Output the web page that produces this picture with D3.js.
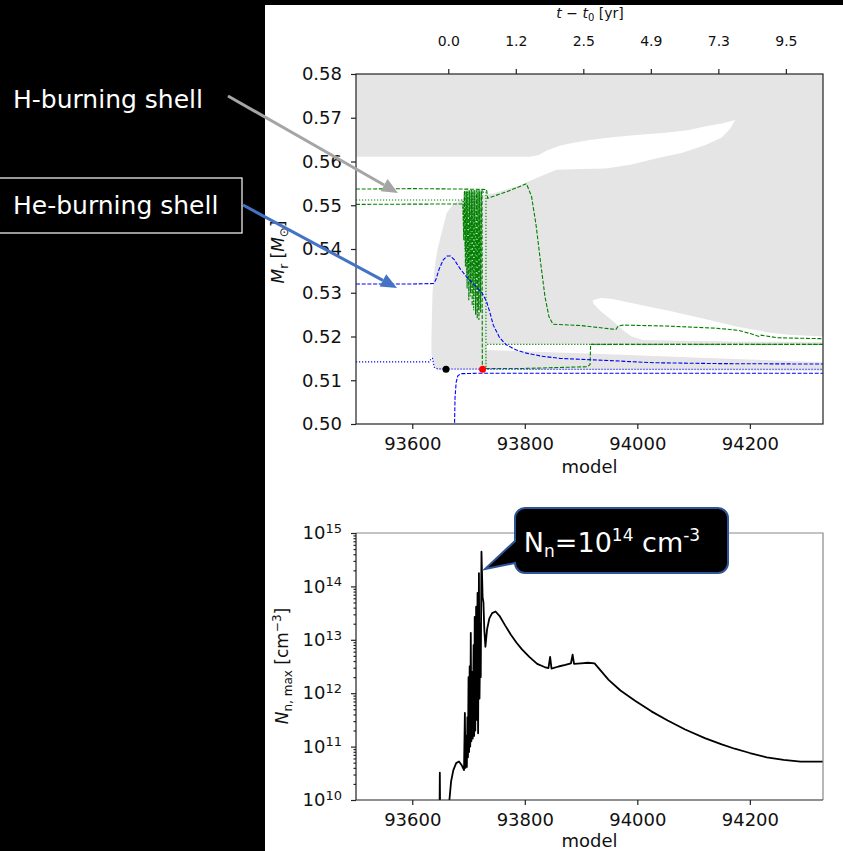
<!DOCTYPE html>
<html>
<head>
<meta charset="utf-8">
<script src="https://cdn.jsdelivr.net/npm/d3@7"></script>
<style>
body { margin: 0; background: #000; }
svg { display: block; }
text { font-family: "DejaVu Sans", sans-serif; }
</style>
</head>
<body>
<svg id="chart" width="843" height="851"></svg>
<script>
// ---- data ----
// upper x axis: time since t0 (yr) at given model numbers
var timeTickModels = [93664, 93784, 93904, 94024, 94144, 94264];
var timeTickLabels = ["0.0", "1.2", "2.5", "4.9", "7.3", "9.5"];
var modelTicks = [93600, 93800, 94000, 94200];
var massTicks = [0.50, 0.51, 0.52, 0.53, 0.54, 0.55, 0.56, 0.57, 0.58];
var nnTicks = [1e10, 1e11, 1e12, 1e13, 1e14, 1e15];

// convective region (grey), outline as [model, Mr]
var convOuter = [[93500,0.58],[94330,0.58],[94330,0.5122],[93645,0.5124],[93640,0.5128],[93636,0.5150],
  [93634,0.5160],[93634,0.5200],[93636,0.5300],[93640,0.5360],[93645,0.5400],[93652,0.5436],[93661,0.5482],
  [93672,0.5502],[93685,0.5512],[93710,0.5521],[93744,0.5527],[93790,0.5545],[93826,0.5565],[93856,0.5581],
  [93900,0.5583],[93944,0.5584],[93990,0.5593],[94033,0.5607],[94080,0.5620],[94121,0.5638],[94150,0.5655],
  [94165,0.5675],[94174,0.5695],[94150,0.5687],[94120,0.5680],[94092,0.5672],[94050,0.5666],[94003,0.5661],
  [93960,0.5656],[93915,0.5649],[93880,0.5641],[93862,0.5636],[93840,0.5626],[93825,0.5615],[93810,0.5611],
  [93500,0.5611]];
// radiative pockets inside it (white)
var pocketLower = [[93921,0.5283],[93935,0.5288],[93956,0.5286],[94000,0.5274],[94062,0.5257],[94120,0.5240],
  [94180,0.5222],[94230,0.5210],[94269,0.5204],[94330,0.5200],[94330,0.5187],[94200,0.5188],[94100,0.5190],
  [94010,0.5192],[93990,0.5200],[93974,0.5215],[93955,0.5237],[93935,0.5258],[93922,0.5275]];
var pocketBottom = [[93731,0.5183],[94330,0.5183],[94330,0.5141],[94100,0.5152],[93900,0.5162],[93780,0.5167],[93731,0.5169]];

// H-burning shell boundaries (green)
var hShellUpper = [[93500,0.5537],[93600,0.5538],[93690,0.5537],[93732,0.5536],[93734,0.5516],[93770,0.5532],
  [93803,0.5549],[93812,0.5520],[93820,0.5455],[93828,0.5370],[93836,0.5290],[93843,0.5245],[93850,0.5228],
  [93900,0.5225],[93962,0.5216],[93966,0.5224],[93975,0.5226],[94050,0.5224],[94140,0.5219],[94180,0.5214],
  [94205,0.5205],[94216,0.5200],[94220,0.5203],[94250,0.5197],[94330,0.5195]];
var hShellLower = [[93500,0.5502],[93690,0.5503],[93691.5,0.5420],[93693,0.5534],[93694.5,0.5360],[93696,0.5533],
  [93697.5,0.5310],[93699,0.5535],[93700.5,0.5283],[93702,0.5534],[93703.5,0.5300],[93705,0.5535],[93706.5,0.5270],
  [93708,0.5534],[93709.5,0.5290],[93711,0.5535],[93712.5,0.5250],[93714,0.5534],[93715.5,0.5240],[93717,0.5535],
  [93718.5,0.5238],[93720,0.5534],[93721.5,0.5255],[93723,0.5535],[93724,0.5535],[93724.5,0.5127],[93800,0.5127],
  [93912,0.5131],[93916,0.5136],[93917,0.5182],[94330,0.5182]];
var hShellDotted = [[93500,0.5512],[93690,0.5512],[93691,0.5460],[93692.5,0.5530],[93694,0.5400],[93695.5,0.5531],
  [93697,0.5340],[93698.5,0.5530],[93700,0.5320],[93701.5,0.5531],[93703,0.5290],[93704.5,0.5530],[93706,0.5300],
  [93707.5,0.5531],[93709,0.5260],[93710.5,0.5530],[93712,0.5270],[93713.5,0.5531],[93715,0.5250],[93716.5,0.5530],
  [93718,0.5260],[93719.5,0.5531],[93721,0.5280],[93722.5,0.5530],[93731,0.5530],[93731,0.5128],[93731,0.5182],
  [94330,0.5182]];

// He-burning shell boundaries (blue)
var heShellUpper = [[93500,0.5320],[93600,0.5320],[93638,0.5321],[93642,0.5330],[93648,0.5355],[93655,0.5375],
  [93662,0.5384],[93668,0.5384],[93675,0.5375],[93685,0.5355],[93696,0.5337],[93710,0.5318],[93723,0.5302],
  [93732,0.5280],[93738,0.5255],[93744,0.5226],[93755,0.5198],[93767,0.5181],[93785,0.5169],[93803,0.5162],
  [93830,0.5155],[93862,0.5150],[93950,0.5145],[94030,0.5140],[94150,0.5138],[94330,0.5137]];
var heShellDotted = [[93500,0.5142],[93630,0.5142],[93634,0.5150],[93636,0.5150],[93639,0.5130],[93645,0.5126],
  [93800,0.5125],[94000,0.5125],[94330,0.5125]];
var heShellLower = [[93675,0.4990],[93676,0.5060],[93678,0.5095],[93681,0.5110],[93686,0.5115],[93720,0.5116],[94330,0.5116]];

var flashStart = [93660, 0.5125];
var flashPeak = [93725, 0.5125];

// max neutron density, log10 (cm^-3)
var nnModel = [93640,93648.5,93649,93649.5,93664,93666,93669,93673,93678,93683,93688,93692,
  93693.5,93694.5,93696,93697,93698,93699,93700,93701,93702,93703,93704,93705,93706.5,93707.5,93709,93710,
  93711,93712,93713.5,93714.5,93716,93717,93718.5,93719.5,93721,93721.7,93723,93725,93726.5,93728,93730,
  93733,93737,93742,93748,93755,93765,93775,93785,93795,93808,93822,93835,93842,93845,93847.5,93860,93872,
  93882,93885,93887.5,93900,93912,93924,93949,93970,93996,94025,94054,94085,94120,94150,94173,94200,94230,
  94260,94290,94330];
var nnLog = [9.8,9.8,10.51,9.8,9.8,10.0,10.35,10.56,10.69,10.72,10.65,10.56,
  11.63,10.6,11.2,10.62,11.55,10.8,12.3,10.9,12.5,11.0,13.13,11.1,12.4,11.15,12.9,11.2,
  13.43,11.3,13.62,11.5,13.88,11.25,14.25,11.9,13.3,12.3,14.65,13.8,13.7,13.2,12.87,
  13.2,13.4,13.5,13.53,13.45,13.27,13.1,12.95,12.82,12.68,12.55,12.49,12.47,12.68,12.46,12.5,12.53,
  12.56,12.72,12.55,12.56,12.57,12.56,12.25,12.05,11.86,11.66,11.49,11.32,11.16,11.04,10.96,10.88,10.8,
  10.75,10.72,10.72];

// ---- drawing ----
var svg = d3.select("#chart");
svg.append("rect").attr("x", 265).attr("y", 5).attr("width", 578).attr("height", 846).attr("fill", "#fff");

var L = 356, R = 823;
var x = d3.scaleLinear().domain([93500, 94330]).range([L, R]);
var yM = d3.scaleLinear().domain([0.50, 0.58]).range([424, 74]);
var yN = d3.scaleLog().domain([1e10, 1e15]).range([800, 533]);

var defs = svg.append("defs");
defs.append("clipPath").attr("id", "clipTop").append("rect")
  .attr("x", L).attr("y", 74).attr("width", R - L).attr("height", 350);
defs.append("clipPath").attr("id", "clipBot").append("rect")
  .attr("x", L).attr("y", 533).attr("width", R - L).attr("height", 267);

var massLine = d3.line().x(function (d) { return x(d[0]); }).y(function (d) { return yM(d[1]); });

var kipp = svg.append("g").attr("clip-path", "url(#clipTop)");
kipp.append("path").attr("d", massLine(convOuter) + "Z").attr("fill", "#e5e5e5");
kipp.append("path").attr("d", massLine(pocketLower) + "Z").attr("fill", "#fff");
kipp.append("path").attr("d", massLine(pocketBottom) + "Z").attr("fill", "#fff");

var DASH = "4,1.7", DOT = "1.2,1.8";
function shell(data, color, dash) {
  kipp.append("path").attr("d", massLine(data))
    .attr("fill", "none").attr("stroke", color).attr("stroke-width", 1.1)
    .attr("stroke-dasharray", dash);
}
shell(hShellDotted, "#008000", DOT);
shell(hShellLower, "#008000", DASH);
shell(hShellUpper, "#008000", DASH);
shell(heShellDotted, "#0000ff", DOT);
shell(heShellUpper, "#0000ff", DASH);
shell(heShellLower, "#0000ff", DASH);

kipp.append("circle").attr("cx", x(flashStart[0])).attr("cy", yM(flashStart[1])).attr("r", 3.5).attr("fill", "#000");
kipp.append("circle").attr("cx", x(flashPeak[0])).attr("cy", yM(flashPeak[1])).attr("r", 3.5).attr("fill", "#ff0000");

svg.append("rect").attr("x", L).attr("y", 74).attr("width", R - L).attr("height", 350)
  .attr("fill", "none").attr("stroke", "#222").attr("stroke-width", 1.2);

function styleAxis(g, size) {
  g.attr("font-family", "DejaVu Sans, sans-serif").attr("font-size", size);
  g.select(".domain").remove();
  g.selectAll(".tick line").attr("stroke", "#222").attr("stroke-width", 1.2);
  g.selectAll(".tick text").attr("fill", "#111");
}

styleAxis(svg.append("g").attr("transform", "translate(0,424)")
  .call(d3.axisBottom(x).tickValues(modelTicks).tickFormat(d3.format("d")).tickSize(5).tickPadding(8)), 18);
styleAxis(svg.append("g").attr("transform", "translate(" + L + ",0)")
  .call(d3.axisLeft(yM).tickValues(massTicks).tickFormat(d3.format(".2f")).tickSize(5).tickPadding(9)), 18);
styleAxis(svg.append("g").attr("transform", "translate(0,74)")
  .call(d3.axisTop(x).tickValues(timeTickModels).tickFormat(function (d, i) { return timeTickLabels[i]; })
    .tickSize(5).tickPadding(23)), 14);

// upper time label
var tl = svg.append("text").attr("x", 590).attr("y", 18).attr("text-anchor", "middle")
  .attr("font-size", 14).attr("fill", "#111");
tl.append("tspan").attr("font-style", "italic").text("t");
tl.append("tspan").text(" \u2212 ");
tl.append("tspan").attr("font-style", "italic").text("t");
tl.append("tspan").attr("font-size", 10).attr("dy", 3).text("0");
tl.append("tspan").attr("dy", -3).text(" [yr]");

svg.append("text").attr("x", (L + R) / 2).attr("y", 473).attr("text-anchor", "middle")
  .attr("font-size", 18).attr("fill", "#111").text("model");

var ml = svg.append("text").attr("transform", "translate(284,252) rotate(-90)").attr("text-anchor", "middle")
  .attr("font-size", 17).attr("fill", "#111");
ml.append("tspan").attr("font-style", "italic").text("M");
ml.append("tspan").attr("font-size", 12).attr("dy", 4).text("r");
ml.append("tspan").attr("dy", -4).text(" [");
ml.append("tspan").attr("font-style", "italic").text("M");
ml.append("tspan").attr("font-size", 12).attr("dy", 4).text("\u2299");
ml.append("tspan").attr("dy", -4).text("]");

// ---- lower panel ----
var nnLine = d3.line().x(function (d) { return x(d[0]); }).y(function (d) { return yN(Math.pow(10, d[1])); });
svg.append("g").attr("clip-path", "url(#clipBot)").append("path")
  .attr("d", nnLine(d3.zip(nnModel, nnLog)))
  .attr("fill", "none").attr("stroke", "#000").attr("stroke-width", 1.8).attr("stroke-linejoin", "round");

svg.append("path").attr("d", "M" + L + ",533H" + R + "V800").attr("fill", "none").attr("stroke", "#888").attr("stroke-width", 1.2);
svg.append("path").attr("d", "M" + L + ",533V800H" + R).attr("fill", "none").attr("stroke", "#222").attr("stroke-width", 1.2);

styleAxis(svg.append("g").attr("transform", "translate(0,800)")
  .call(d3.axisBottom(x).tickValues(modelTicks).tickFormat(d3.format("d")).tickSize(5).tickPadding(8)), 18);

var minorTicks = [];
nnTicks.slice(0, -1).forEach(function (p) { for (var k = 2; k < 10; k++) minorTicks.push(p * k); });
styleAxis(svg.append("g").attr("transform", "translate(" + L + ",0)")
  .call(d3.axisLeft(yN).tickValues(minorTicks).tickFormat("").tickSize(2.5)), 10);

var yAx = svg.append("g").attr("transform", "translate(" + L + ",0)")
  .call(d3.axisLeft(yN).tickValues(nnTicks).tickFormat(function () { return ""; }).tickSize(5).tickPadding(9));
styleAxis(yAx, 18);
yAx.selectAll(".tick text").each(function (d) {
  var t = d3.select(this);
  t.append("tspan").text("10");
  t.append("tspan").attr("font-size", 13).attr("dy", "-0.5em").text(Math.round(Math.log10(d)));
});

svg.append("text").attr("x", (L + R) / 2).attr("y", 847).attr("text-anchor", "middle")
  .attr("font-size", 18).attr("fill", "#111").text("model");

var nl = svg.append("text").attr("transform", "translate(288,666) rotate(-90)").attr("text-anchor", "middle")
  .attr("font-size", 17).attr("fill", "#111");
nl.append("tspan").attr("font-style", "italic").text("N");
nl.append("tspan").attr("font-size", 12).attr("dy", 4).text("n, max");
nl.append("tspan").attr("dy", -4).text(" [cm");
nl.append("tspan").attr("font-size", 12).attr("dy", -7).text("\u22123");
nl.append("tspan").attr("dy", 7).text("]");

// ---- annotations ----
function arrow(x1, y1, x2, y2, color) {
  var dx = x2 - x1, dy = y2 - y1, len = Math.sqrt(dx * dx + dy * dy);
  var ux = dx / len, uy = dy / len, bx = x2 - 16 * ux, by = y2 - 16 * uy;
  svg.append("line").attr("x1", x1).attr("y1", y1).attr("x2", bx).attr("y2", by)
    .attr("stroke", color).attr("stroke-width", 3);
  svg.append("path").attr("d", "M" + x2 + "," + y2 + "L" + (bx - 7 * uy) + "," + (by + 7 * ux) +
    "L" + (bx + 7 * uy) + "," + (by - 7 * ux) + "Z").attr("fill", color);
}
arrow(228, 96, 398, 193, "#a5a5a5");
arrow(243, 205, 397, 288, "#4472c4");

svg.append("text").attr("x", 13).attr("y", 108).attr("font-family", "Open Sans, sans-serif")
  .attr("font-size", 25).attr("fill", "#fff").text("H-burning shell");
svg.append("rect").attr("x", -2).attr("y", 178).attr("width", 244).attr("height", 55)
  .attr("fill", "#000").attr("stroke", "#fff").attr("stroke-width", 1.2);
svg.append("text").attr("x", 13).attr("y", 214).attr("font-family", "Open Sans, sans-serif")
  .attr("font-size", 25).attr("fill", "#fff").text("He-burning shell");

svg.append("path")
  .attr("d", "M525,508H718A10,10 0 0 1 728,518V563A10,10 0 0 1 718,573H525A10,10 0 0 1 515,563L485,569L515,541V518A10,10 0 0 1 525,508Z")
  .attr("fill", "#000").attr("stroke", "#2f5597").attr("stroke-width", 2);
var cl = svg.append("text").attr("x", 612).attr("y", 552).attr("text-anchor", "middle")
  .attr("font-family", "Open Sans, sans-serif").attr("font-size", 27).attr("fill", "#fff");
cl.append("tspan").text("N");
cl.append("tspan").attr("font-size", 17).attr("dy", 5).text("n");
cl.append("tspan").attr("dy", -5).text("=10");
cl.append("tspan").attr("font-size", 17).attr("dy", -11).text("14");
cl.append("tspan").attr("dy", 11).text(" cm");
cl.append("tspan").attr("font-size", 17).attr("dy", -11).text("-3");
</script>
</body>
</html>
